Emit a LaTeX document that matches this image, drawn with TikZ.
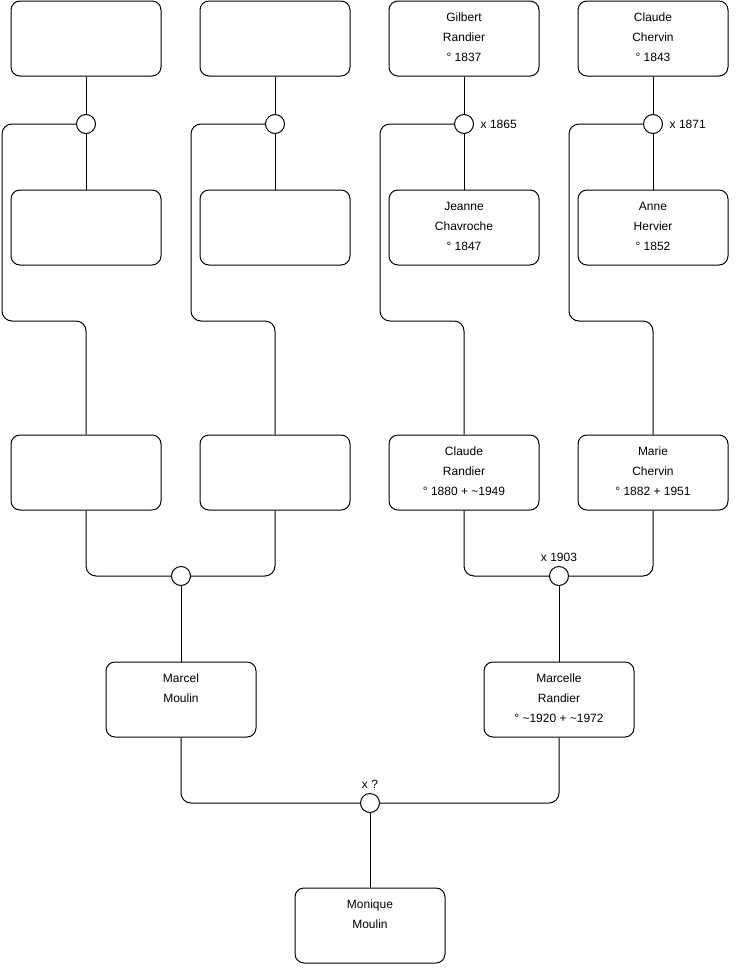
\documentclass[tikz,border=0pt]{standalone}
\usepackage{fontspec}
\setmainfont{Liberation Sans}
\begin{document}
\begin{tikzpicture}[x=1pt,y=-1pt,
 person/.style={draw=black, line width=1pt, rounded corners=9pt, minimum width=150pt, minimum height=75pt, inner sep=0pt, fill=white},
 union/.style={circle, draw=black, line width=1pt, minimum size=19pt, inner sep=0pt, fill=white},
 conn/.style={draw=black, line width=1pt, rounded corners=10pt},
 ptext/.style={anchor=north, align=center, inner sep=0pt, font=\fontsize{12}{20}\selectfont},
 lbl/.style={inner sep=0pt, font=\fontsize{12}{14}\selectfont}]
\useasboundingbox (0,0) rectangle (740,975);
% persons
\node[person] (a1) at (86,38.5) {};
\node[person] (a2) at (275,38.5) {};
\node[person] (a3) at (464,38.5) {};
\node[person] (a4) at (653,38.5) {};
\node[person] (b1) at (86,227.5) {};
\node[person] (b2) at (275,227.5) {};
\node[person] (b3) at (464,227.5) {};
\node[person] (b4) at (653,227.5) {};
\node[person] (r1) at (86,472.5) {};
\node[person] (r2) at (275,472.5) {};
\node[person] (r3) at (464,472.5) {};
\node[person] (r4) at (653,472.5) {};
\node[person] (m1) at (181,699.5) {};
\node[person] (m2) at (559,699.5) {};
\node[person] (k) at (370,925.5) {};
% unions
\node[union] (u1) at (86,124) {};
\node[union] (u2) at (275,124) {};
\node[union] (u3) at (464,124) {};
\node[union] (u4) at (653,124) {};
\node[union] (u5) at (181,576) {};
\node[union] (u6) at (559,576) {};
\node[union] (u7) at (370,803) {};
% bend points
\coordinate (p1) at (2,321);
\coordinate (p2) at (191,321);
\coordinate (p3) at (380,321);
\coordinate (p4) at (569,321);
% connectors
\draw[conn] (a1) -- (u1) -- (b1);
\draw[conn] (a2) -- (u2) -- (b2);
\draw[conn] (a3) -- (u3) -- (b3);
\draw[conn] (a4) -- (u4) -- (b4);
\draw[conn] (u1.west) -| (p1) -| (r1.north);
\draw[conn] (u2.west) -| (p2) -| (r2.north);
\draw[conn] (u3.west) -| (p3) -| (r3.north);
\draw[conn] (u4.west) -| (p4) -| (r4.north);
\draw[conn] (r1.south) |- (u5.west);
\draw[conn] (r2.south) |- (u5.east);
\draw[conn] (u5) -- (m1);
\draw[conn] (r3.south) |- (u6.west);
\draw[conn] (r4.south) |- (u6.east);
\draw[conn] (u6) -- (m2);
\draw[conn] (m1.south) |- (u7.west);
\draw[conn] (m2.south) |- (u7.east);
\draw[conn] (u7) -- (k);
% texts
\node[ptext] (ta3) at ([yshift=-12.5pt]a3.north) {Gilbert\\Randier\\° 1837};
\node[ptext] (ta4) at ([yshift=-12.5pt]a4.north) {Claude\\Chervin\\° 1843};
\node[ptext] (tb3) at ([yshift=-12.5pt]b3.north) {Jeanne\\Chavroche\\° 1847};
\node[ptext] (tb4) at ([yshift=-12.5pt]b4.north) {Anne\\Hervier\\° 1852};
\node[ptext] (tr3) at ([yshift=-12.5pt]r3.north) {Claude\\Randier\\° 1880 + \textasciitilde1949};
\node[ptext] (tr4) at ([yshift=-12.5pt]r4.north) {Marie\\Chervin\\° 1882 + 1951};
\node[ptext] (tm1) at ([yshift=-12.5pt]m1.north) {Marcel\\Moulin};
\node[ptext] (tm2) at ([yshift=-12.5pt]m2.north) {Marcelle\\Randier\\° \textasciitilde1920 + \textasciitilde1972};
\node[ptext] (tk) at ([yshift=-12.5pt]k.north) {Monique\\Moulin};
% marriage labels
\node[lbl, anchor=west] (l3) at ([xshift=6.5pt]u3.east) {x 1865};
\node[lbl, anchor=west] (l4) at ([xshift=6.5pt]u4.east) {x 1871};
\node[lbl, anchor=base] (l6) at ([yshift=4.5pt]u6.north) {x 1903};
\node[lbl, anchor=base] (l7) at ([yshift=4.5pt]u7.north) {x ?};
\end{tikzpicture}
\end{document}
